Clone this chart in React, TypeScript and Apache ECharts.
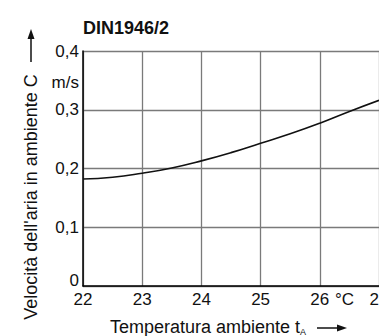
import React, { useEffect, useRef } from "react";
import * as echarts from "echarts";

const temps = [22, 22.5, 23, 23.5, 24, 24.5, 25, 25.5, 26, 26.5, 27];
const velocity = [0.182, 0.185, 0.192, 0.201, 0.213, 0.227, 0.243, 0.259, 0.277, 0.297, 0.316];
const title = "DIN1946/2";
const yName = "Velocità dell'aria in ambiente C";
const yUnit = "m/s";
const xName = "Temperatura ambiente t";
const xNameSub = "A";
const xUnit = "°C";

const FONT = "'Liberation Sans', Arial, Helvetica, sans-serif";

export default function App() {
  const ref = useRef<HTMLDivElement>(null);
  useEffect(() => {
    if (!ref.current) return;
    const chart = echarts.init(ref.current, null, { renderer: "svg" });
    const gridColor = "#7a7a7a";
    chart.setOption({
      animation: false,
      backgroundColor: "#ffffff",
      textStyle: { fontFamily: FONT },
      grid: { left: 83, right: 0, top: 51, bottom: 50, containLabel: false, outerBoundsMode: "none" },
      xAxis: {
        type: "value",
        min: 22,
        max: 27,
        interval: 1,
        axisLine: { show: true, lineStyle: { color: "#000", width: 1.5 } },
        axisTick: { show: false },
        splitLine: { show: true, lineStyle: { color: gridColor, width: 1.3 } },
        axisLabel: { color: "#111", fontSize: 17, fontFamily: FONT, margin: 5, hideOverlap: false },
      },
      yAxis: {
        type: "value",
        min: 0,
        max: 0.4,
        interval: 0.1,
        axisLine: { show: true, lineStyle: { color: "#000", width: 1.5 } },
        axisTick: { show: false },
        splitLine: { show: true, lineStyle: { color: gridColor, width: 1.3 } },
        axisLabel: {
          color: "#111",
          fontSize: 17,
          fontFamily: FONT,
          margin: 4,
          formatter: (v: number) => (v === 0 ? "{z|0}" : v.toFixed(1).replace(".", ",")),
          rich: { z: { fontSize: 17, fontFamily: FONT, color: "#111", padding: [0, 0, 12, 0] } },
        },
      },
      series: [
        {
          type: "line",
          data: temps.map((t, i) => [t, velocity[i]]),
          smooth: true,
          showSymbol: false,
          lineStyle: { color: "#111", width: 1.6 },
        },
      ],
      graphic: [
        {
          type: "text",
          left: 83,
          top: 19,
          style: { text: title, font: `bold 18px ${FONT}`, fill: "#111" },
        },
        {
          type: "text",
          x: 79,
          y: 82,
          style: { text: yUnit, font: `17px ${FONT}`, fill: "#111", align: "right", verticalAlign: "middle" },
        },
        {
          type: "text",
          x: 335,
          y: 291,
          style: { text: xUnit, font: `17px ${FONT}`, fill: "#111", align: "left", verticalAlign: "top" },
        },
        {
          type: "text",
          x: 31,
          y: 197,
          rotation: Math.PI / 2,
          style: {
            text: yName,
            font: `18px ${FONT}`,
            fill: "#111",
            align: "center",
            verticalAlign: "middle",
          },
        },
        {
          type: "line",
          shape: { x1: 31, y1: 62, x2: 31, y2: 36 },
          style: { stroke: "#111", lineWidth: 1.5 },
        },
        {
          type: "polygon",
          shape: { points: [[31, 29], [27.5, 39], [34.5, 39]] },
          style: { fill: "#111" },
        },
        {
          type: "text",
          x: 110,
          y: 327,
          style: {
            text: `{m|${xName}}{s|${xNameSub}}`,
            align: "left",
            verticalAlign: "middle",
            rich: {
              m: { font: `18px ${FONT}`, fill: "#111" },
              s: { font: `9px ${FONT}`, fill: "#111", padding: [10, 0, 0, 0] },
            },
          },
        },
        {
          type: "line",
          shape: { x1: 317, y1: 328, x2: 339, y2: 328 },
          style: { stroke: "#111", lineWidth: 1.5 },
        },
        {
          type: "polygon",
          shape: { points: [[347, 328], [337, 324.5], [337, 331.5]] },
          style: { fill: "#111" },
        },
      ],
    });
    return () => chart.dispose();
  }, []);
  return (
    <div
      ref={ref}
      style={{ position: "fixed", left: 0, top: 0, width: 379, height: 336 }}
    />
  );
}
